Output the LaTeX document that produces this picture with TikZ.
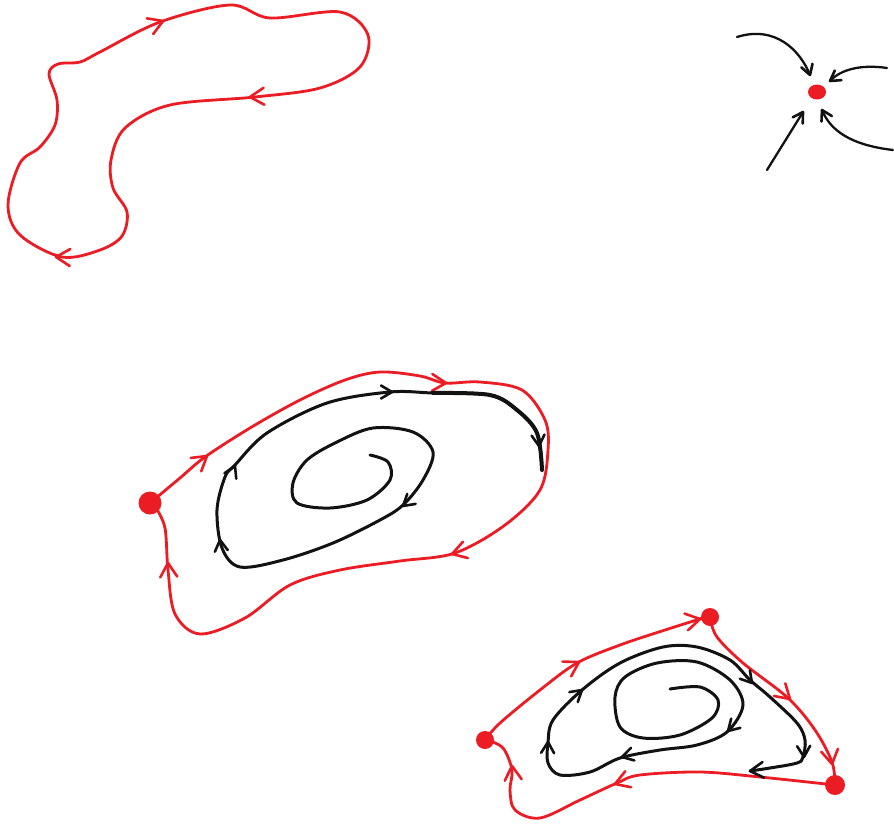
\documentclass[tikz,border=0pt]{standalone}
\usepackage{xcolor}
\definecolor{pen}{RGB}{236,28,36}
\definecolor{ink}{RGB}{18,18,18}
\begin{document}
\begin{tikzpicture}[x=1pt,y=-1pt,line cap=round,line join=round,
  redline/.style={draw=pen,line width=2.8pt},
  blackline/.style={draw=ink,line width=3pt},
  thinblack/.style={draw=ink,line width=2.3pt},
  reddot/.style={fill=pen,draw=none},
  redchev/.pic={\draw[pen,line width=2.6pt] (-14,8.5) -- (0,0) -- (-14,-8.5);},
  blackchev/.pic={\draw[ink,line width=2.6pt] (-11,6.5) -- (0,0) -- (-11,-6.5);}]
\useasboundingbox (0,0) rectangle (894,825);
% ---------- shape 1: closed red loop
\draw[redline] plot[smooth cycle,tension=0.55] coordinates {
 (58,64) (80,62) (100,52) (160,22) (230,5) (270,18) (340,12) (368,35) (360,67)
 (320,88) (255,97) (170,105) (125,128) (111,160) (113,188) (127,212) (122,236)
 (100,250) (62,257) (20,235) (8,205) (20,163) (40,147) (55,125) (57,100) (49,74)};
\pic[rotate=22] at (163,21) {redchev};
\pic[rotate=183] at (250,97) {redchev};
\pic[rotate=178] at (56,257) {redchev};
% ---------- shape 2: stable node
\fill[reddot] (817,92) ellipse (9 and 7.5);
\draw[thinblack] (737,37) .. controls (775,25) and (800,50) .. (810,75);
\pic[rotate=-72,scale=0.9] at (810,75) {blackchev};
\draw[thinblack] (887,68) .. controls (860,64) and (840,70) .. (830,81);
\pic[rotate=215,scale=0.9] at (830,81) {blackchev};
\draw[thinblack] (767,170) -- (803,112);
\pic[rotate=58,scale=0.9] at (803,112) {blackchev};
\draw[thinblack] (893,150) .. controls (850,145) and (830,130) .. (822,110);
\pic[rotate=118,scale=0.9] at (822,110) {blackchev};
% ---------- shape 3: homoclinic loop with spiral
\draw[redline] plot[smooth,tension=0.55] coordinates {
 (150,503) (180,478) (205,457) (250,428) (300,400) (345,380) (380,372) (420,376)
 (445,383) (480,382) (522,390) (545,420) (548,450) (540,490) (505,525) (455,553)
 (400,561) (340,570) (290,585) (245,618) (200,634) (175,614) (168,570) (165,528) (156,508)};
\pic[rotate=38] at (207,456) {redchev};
\pic[rotate=-2] at (446,383) {redchev};
\pic[rotate=197] at (452,554) {redchev};
\pic[rotate=93] at (168,563) {redchev};
\fill[reddot] (150,503) circle (11.5);
\draw[blackline] plot[smooth,tension=0.55] coordinates {
 (370,455) (388,462) (390,480) (367,500) (330,508) (297,503) (293,483) (307,460)
 (337,442) (373,428) (413,432) (433,452) (423,480) (403,505) (380,520) (333,543)
 (283,560) (240,567) (222,548) (217,510) (225,477) (235,465) (267,433) (327,403)
 (390,392) (433,393) (490,395) (517,410) (537,433) (542,470)};
\draw[ink,line width=4pt] plot[smooth,tension=0.55] coordinates {
 (433,393) (490,395) (517,410) (537,433) (542,470)};
\pic[rotate=220] at (403,506) {blackchev};
\pic[rotate=97] at (220,540) {blackchev};
\pic[rotate=65] at (235,466) {blackchev};
\pic[rotate=0] at (392,392) {blackchev};
\pic[rotate=-85] at (539,446) {blackchev};
% ---------- shape 4: heteroclinic cycle with spiral
\draw[redline] plot[smooth,tension=0.55] coordinates {
 (485,740) (500,723) (540,690) (577,663) (620,645) (665,630) (703,618)};
\pic[rotate=30] at (579,662) {redchev};
\pic[rotate=12] at (700,619) {redchev};
\draw[redline] plot[smooth,tension=0.55] coordinates {
 (710,618) (717,637) (743,663) (788,698) (815,730) (832,762) (835,785)};
\pic[rotate=-42] at (790,699) {redchev};
\pic[rotate=-80] at (832,764) {redchev};
\draw[redline] plot[smooth,tension=0.55] coordinates {
 (835,785) (760,777) (700,772) (640,775) (617,783) (580,800) (540,818) (515,810)
 (510,790) (512,770) (503,748) (487,740)};
\pic[rotate=200] at (615,784) {redchev};
\pic[rotate=95] at (512,766) {redchev};
\fill[reddot] (710,617) circle (9);
\fill[reddot] (485,740) circle (9);
\fill[reddot] (835,785) circle (10);
\draw[blackline] plot[smooth,tension=0.55] coordinates {
 (670,689) (700,687) (718,700) (712,718) (680,735) (643,738) (620,727) (615,697)
 (625,677) (657,663) (697,662) (730,680) (743,705) (727,732) (697,745) (660,750)
 (620,758) (590,772) (560,775) (548,763) (548,743) (553,720) (582,690) (620,663)
 (663,647) (697,647) (730,660) (750,680) (770,697) (797,723) (805,740) (803,757)
 (797,763) (770,768) (750,771)};
\pic[rotate=225] at (728,731) {blackchev};
\pic[rotate=195] at (622,757) {blackchev};
\pic[rotate=88] at (548,742) {blackchev};
\pic[rotate=40] at (582,690) {blackchev};
\pic[rotate=-50] at (752,683) {blackchev};
\pic[rotate=-88] at (804,757) {blackchev};
\pic[rotate=185,scale=1.2] at (750,771) {blackchev};
\end{tikzpicture}
\end{document}
